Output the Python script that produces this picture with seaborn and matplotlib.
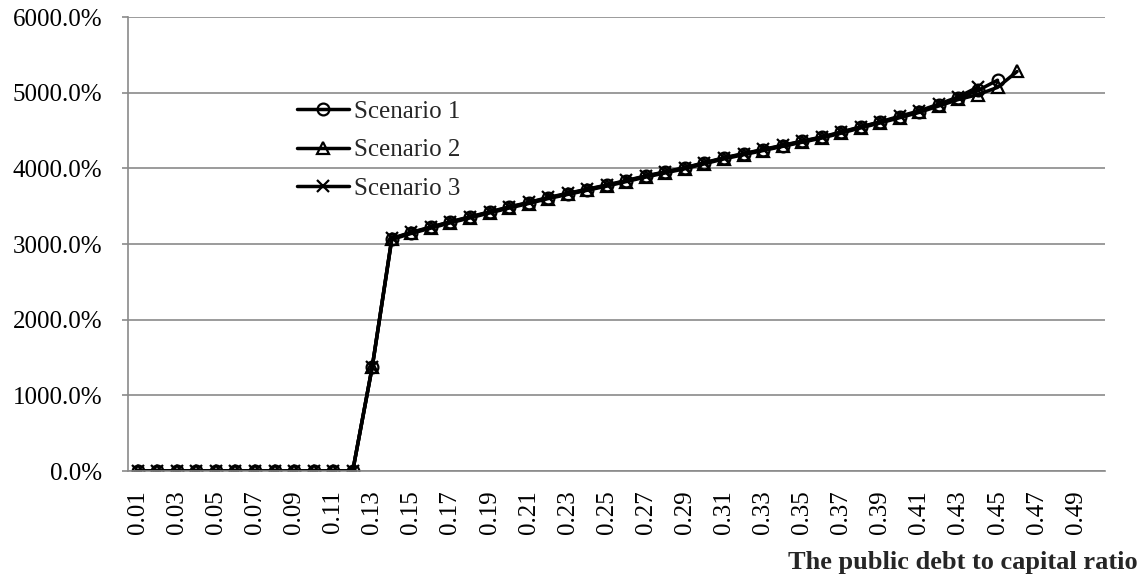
"""Debt-to-capital ratio scenarios: line chart with categorical-style x axis."""

import matplotlib

matplotlib.use("Agg")
import matplotlib.pyplot as plt
import pandas as pd
import seaborn as sns
from matplotlib.ticker import FuncFormatter

# x categories: public debt to capital ratio
RATIOS = [
    0.01, 0.02, 0.03, 0.04, 0.05, 0.06, 0.07, 0.08, 0.09, 0.10,
    0.11, 0.12, 0.13, 0.14, 0.15, 0.16, 0.17, 0.18, 0.19, 0.20,
    0.21, 0.22, 0.23, 0.24, 0.25, 0.26, 0.27, 0.28, 0.29, 0.30,
    0.31, 0.32, 0.33, 0.34, 0.35, 0.36, 0.37, 0.38, 0.39, 0.40,
    0.41, 0.42, 0.43, 0.44, 0.45, 0.46, 0.47, 0.48, 0.49, 0.50,
]
TICK_LABELS = [
    "0.01", "0.03", "0.05", "0.07", "0.09", "0.11", "0.13", "0.15", "0.17",
    "0.19", "0.21", "0.23", "0.25", "0.27", "0.29", "0.31", "0.33", "0.35",
    "0.37", "0.39", "0.41", "0.43", "0.45", "0.47", "0.49",
]

# values in percent
SCENARIO_1 = [
    0, 0, 0, 0, 0, 0, 0, 0, 0, 0, 0, 0,
    1380, 3070, 3150, 3220, 3290, 3355, 3420, 3485, 3545, 3610,
    3665, 3720, 3775, 3835, 3895, 3950, 4005, 4070, 4135, 4190,
    4245, 4300, 4355, 4410, 4475, 4545, 4610, 4680, 4750, 4840,
    4930, 5030, 5165,
]
SCENARIO_2 = [
    0, 0, 0, 0, 0, 0, 0, 0, 0, 0, 0, 0,
    1375, 3060, 3140, 3210, 3280, 3345, 3410, 3475, 3535, 3600,
    3655, 3710, 3765, 3825, 3885, 3940, 3995, 4060, 4125, 4180,
    4235, 4290, 4345, 4400, 4465, 4535, 4600, 4670, 4740, 4825,
    4910, 4975, 5070, 5280,
]
SCENARIO_3 = [
    0, 0, 0, 0, 0, 0, 0, 0, 0, 0, 0, 0,
    1380, 3075, 3155, 3225, 3295, 3360, 3425, 3490, 3550, 3615,
    3670, 3725, 3780, 3840, 3900, 3955, 4010, 4075, 4140, 4195,
    4250, 4305, 4360, 4415, 4480, 4550, 4615, 4690, 4760, 4850,
    4945, 5075,
]

SERIES = {"Scenario 1": SCENARIO_1, "Scenario 2": SCENARIO_2, "Scenario 3": SCENARIO_3}
MARKERS = {"Scenario 1": "o", "Scenario 2": "^", "Scenario 3": "x"}

sns.set_theme(style="white")
plt.rcParams["font.family"] = ["Liberation Serif", "DejaVu Serif"]

fig = plt.figure(figsize=(11.42, 5.77), dpi=100)
ax = fig.add_axes([0.1121, 0.1837, 0.8555, 0.7868])

grid_color = "#8a8a8a"
for name, values in SERIES.items():
    frame = pd.DataFrame({"ratio": RATIOS[: len(values)], "value": values})
    sns.lineplot(
        data=frame,
        x="ratio",
        y="value",
        label=name,
        marker=MARKERS[name],
        color="black",
        linewidth=2.5,
        markersize=8.5,
        markeredgecolor="black",
        markeredgewidth=1.6,
        markerfacecolor="none",
        ax=ax,
    )

ax.set_xlim(0.005, 0.505)
ax.set_ylim(0, 6000)
ax.set_yticks(range(0, 6001, 1000))
ax.yaxis.set_major_formatter(FuncFormatter(lambda v, _: f"{v:.1f}%"))
ax.set_xticks([float(t) for t in TICK_LABELS])
ax.set_xticklabels(TICK_LABELS, rotation=90)

ax.grid(axis="y", color=grid_color, linewidth=1.2)
ax.set_axisbelow(True)
for side in ("top", "right"):
    ax.spines[side].set_visible(False)
for side in ("left", "bottom"):
    ax.spines[side].set_color(grid_color)
    ax.spines[side].set_linewidth(1.2)

ax.tick_params(axis="y", left=True, length=4.5, width=1.2, color=grid_color, pad=14, labelsize=18)
ax.tick_params(axis="x", bottom=False, pad=8, labelsize=18)
for lbl in ax.get_xticklabels() + ax.get_yticklabels():
    lbl.set_color("black")

ax.set_ylabel("")
ax.set_xlabel("The public debt to capital ratio", fontsize=19, fontweight="bold",
              ha="right", va="center")
ax.xaxis.set_label_coords(1.0338, -0.202)

handles, labels = ax.get_legend_handles_labels()
ax.legend(
    handles,
    labels,
    loc="center left",
    bbox_to_anchor=(0.26, 0.740),
    bbox_transform=fig.transFigure,
    frameon=False,
    fontsize=18,
    handlelength=2.1,
    handletextpad=0.2,
    labelspacing=0.64,
    borderpad=0,
    borderaxespad=0,
)

fig.savefig("out.png", dpi=100)
plt.close(fig)
